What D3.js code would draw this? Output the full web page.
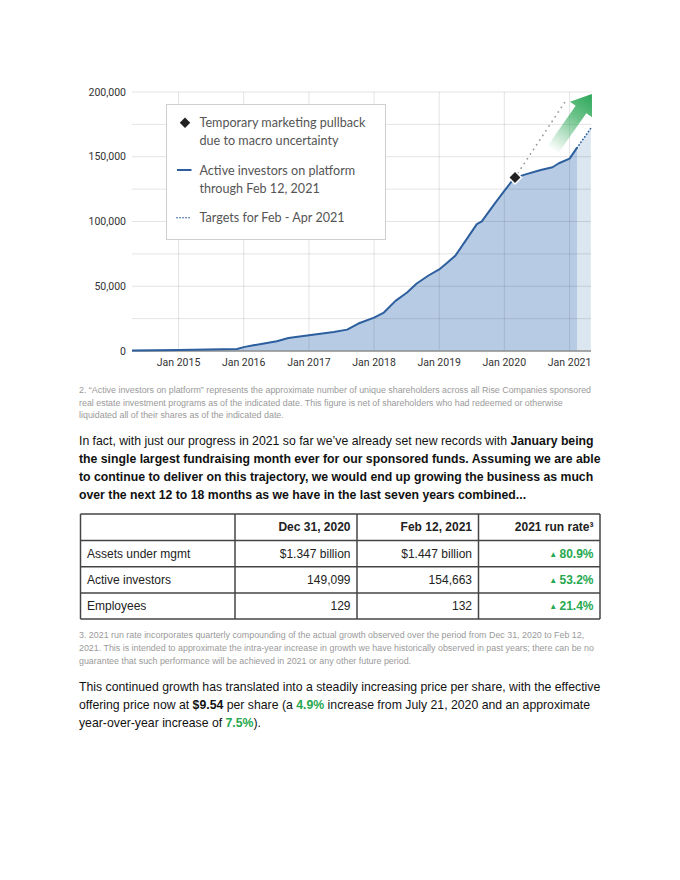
<!DOCTYPE html>
<html>
<head>
<meta charset="utf-8">
<script src="https://cdn.jsdelivr.net/npm/d3@7"></script>
<style>
  body { margin: 0; background: #fff; }
  svg { display: block; }
</style>
</head>
<body>
<div id="page"></div>
<script>
// ----- data -----
const investorDates = ["2014-04-15", "2015-01-01", "2015-11-25", "2016-01-01", "2016-02-25", "2016-05-10",
  "2016-07-05", "2016-09-08", "2017-01-01", "2017-05-20", "2017-08-03", "2017-10-05", "2018-01-01",
  "2018-02-25", "2018-05-01", "2018-07-05", "2018-08-28", "2018-11-02", "2019-01-01", "2019-02-15",
  "2019-04-01", "2019-06-07", "2019-07-31", "2019-08-28", "2019-11-02", "2020-01-01", "2020-02-25",
  "2020-04-20", "2020-07-23", "2020-09-27", "2020-11-02", "2021-01-01", "2021-02-12"];
const investorValues = [300, 800, 1500, 3000, 4400, 6200, 7500, 10000, 12100, 14700, 16500, 21200, 25800,
  29700, 38700, 45200, 52100, 58300, 63000, 68100, 73500, 87000, 98000, 100100, 112700, 123600, 133400,
  136000, 139800, 141900, 145000, 148600, 157000];

const targetDates = ["2021-02-12", "2021-04-30"];
const targetValues = [157000, 172000];

const pullbackDate = "2020-03-01";
const pullbackValue = 134000;

const trendDates = ["2020-03-01", "2020-12-07"];
const trendValues = [134000, 192500];

const arrowDates = ["2020-09-27", "2021-05-06"];   // tail, tip
const arrowValues = [155000, 198500];

const yTicks = [0, 50000, 100000, 150000, 200000];
const yGrid = d3.range(0, 200001, 25000);
const xTickYears = [2015, 2016, 2017, 2018, 2019, 2020, 2021];

const legendItems = [
  ["Temporary marketing pullback", "due to macro uncertainty"],
  ["Active investors on platform", "through Feb 12, 2021"],
  ["Targets for Feb - Apr 2021"]
];

const footnote2 = [
  "2. \u201cActive investors on platform\u201d represents the approximate number of unique shareholders across all Rise Companies sponsored",
  "real estate investment programs as of the indicated date. This figure is net of shareholders who had redeemed or otherwise",
  "liquidated all of their shares as of the indicated date."
];

// each line: list of [text, style]  (n = normal, b = bold, g = green bold)
const para1 = [
  [["In fact, with just our progress in 2021 so far we\u2019ve already set new records with ", "n"], ["January being", "b"]],
  [["the single largest fundraising month ever for our sponsored funds. Assuming we are able", "b"]],
  [["to continue to deliver on this trajectory, we would end up growing the business as much", "b"]],
  [["over the next 12 to 18 months as we have in the last seven years combined...", "b"]]
];

const tableHeader = ["", "Dec 31, 2020", "Feb 12, 2021", "2021 run rate\u00b3"];
const tableRows = [
  ["Assets under mgmt", "$1.347 billion", "$1.447 billion", "80.9%"],
  ["Active investors", "149,099", "154,663", "53.2%"],
  ["Employees", "129", "132", "21.4%"]
];

const footnote3 = [
  "3. 2021 run rate incorporates quarterly compounding of the actual growth observed over the period from Dec 31, 2020 to Feb 12,",
  "2021. This is intended to approximate the intra-year increase in growth we have historically observed in past years; there can be no",
  "guarantee that such performance will be achieved in 2021 or any other future period."
];

const para2 = [
  [["This continued growth has translated into a steadily increasing price per share, with the effective", "n"]],
  [["offering price now at ", "n"], ["$9.54", "b"], [" per share (a ", "n"], ["4.9%", "g"], [" increase from July 21, 2020 and an approximate", "n"]],
  [["year-over-year increase of ", "n"], ["7.5%", "g"], [").", "n"]]
];

// ----- setup -----
const W = 680, H = 880;
const GREEN = "#27a84f";
const parse = d3.timeParse("%Y-%m-%d");

const svg = d3.select("#page").append("svg")
  .attr("width", W)
  .attr("height", H);

const x = d3.scaleTime()
  .domain([parse("2014-04-15"), parse("2021-05-01")])
  .range([132, 591]);

const y = d3.scaleLinear()
  .domain([0, 200000])
  .range([351, 92]);

const series = investorDates.map((d, i) => ({ date: parse(d), value: investorValues[i] }));
const target = targetDates.map((d, i) => ({ date: parse(d), value: targetValues[i] }));
const trend = trendDates.map((d, i) => ({ date: parse(d), value: trendValues[i] }));

const chart = svg.append("g");

// target area (lighter)
chart.append("path")
  .datum(target)
  .attr("fill", "#dce6f1")
  .attr("d", d3.area().x(d => x(d.date)).y0(y(0)).y1(d => y(d.value)));

// main area
chart.append("path")
  .datum(series)
  .attr("fill", "#b7cce4")
  .attr("d", d3.area().x(d => x(d.date)).y0(y(0)).y1(d => y(d.value)));

// gridlines on top of the fill
chart.append("g")
  .selectAll("line.h")
  .data(yGrid.slice(1))
  .join("line")
  .attr("x1", x.range()[0]).attr("x2", x.range()[1])
  .attr("y1", d => y(d)).attr("y2", d => y(d))
  .attr("stroke", "#000").attr("stroke-opacity", 0.11).attr("stroke-width", 1);

chart.append("g")
  .selectAll("line.v")
  .data(xTickYears)
  .join("line")
  .attr("x1", d => x(new Date(d, 0, 1))).attr("x2", d => x(new Date(d, 0, 1)))
  .attr("y1", y(200000)).attr("y2", y(0))
  .attr("stroke", "#000").attr("stroke-opacity", 0.11).attr("stroke-width", 1);

// baseline
chart.append("line")
  .attr("x1", x.range()[0]).attr("x2", x.range()[1])
  .attr("y1", y(0)).attr("y2", y(0))
  .attr("stroke", "#8d8d8d").attr("stroke-width", 1.5);

// y axis labels
chart.append("g")
  .selectAll("text")
  .data(yTicks)
  .join("text")
  .attr("x", 126)
  .attr("y", d => y(d) + 3.5)
  .attr("text-anchor", "end")
  .attr("font-family", "Roboto, sans-serif")
  .attr("font-size", 10.5)
  .attr("fill", "#333")
  .text(d => d3.format(",")(d));

// x axis labels
chart.append("g")
  .selectAll("text")
  .data(xTickYears)
  .join("text")
  .attr("x", d => x(new Date(d, 0, 1)))
  .attr("y", 366)
  .attr("text-anchor", "middle")
  .attr("font-family", "Roboto, sans-serif")
  .attr("font-size", 10.5)
  .attr("fill", "#333")
  .text(d => "Jan " + d);

// green arrow with gradient
const defs = svg.append("defs");
const ax0 = x(parse(arrowDates[0])), ay0 = y(arrowValues[0]);
const ax1 = x(parse(arrowDates[1])), ay1 = y(arrowValues[1]);
const grad = defs.append("linearGradient")
  .attr("id", "arrowGrad")
  .attr("gradientUnits", "userSpaceOnUse")
  .attr("x1", ax0).attr("y1", ay0).attr("x2", ax1).attr("y2", ay1);
grad.append("stop").attr("offset", 0).attr("stop-color", "#3aae62").attr("stop-opacity", 0);
grad.append("stop").attr("offset", 0.6).attr("stop-color", "#3aae62").attr("stop-opacity", 0.75);
grad.append("stop").attr("offset", 1).attr("stop-color", "#2aa657").attr("stop-opacity", 1);

{
  const dx = ax1 - ax0, dy = ay1 - ay0;
  const len = Math.hypot(dx, dy);
  const ux = dx / len, uy = dy / len;
  const px = -uy, py = ux;
  const shaftHalf = 6.5, headHalf = 13.5, headLen = 19;
  const bx = ax1 - ux * headLen, by = ay1 - uy * headLen;
  const pts = [
    [ax0 + px * shaftHalf, ay0 + py * shaftHalf],
    [bx + px * shaftHalf, by + py * shaftHalf],
    [bx + px * headHalf, by + py * headHalf],
    [ax1, ay1],
    [bx - px * headHalf, by - py * headHalf],
    [bx - px * shaftHalf, by - py * shaftHalf],
    [ax0 - px * shaftHalf, ay0 - py * shaftHalf]
  ];
  chart.append("path")
    .attr("d", d3.line()(pts) + "Z")
    .attr("fill", "url(#arrowGrad)");
}

// gray dotted trend
chart.append("path")
  .datum(trend)
  .attr("fill", "none")
  .attr("stroke", "#9a9a9a")
  .attr("stroke-width", 1.8)
  .attr("stroke-linecap", "round")
  .attr("stroke-dasharray", "0.1 5.5")
  .attr("d", d3.line().x(d => x(d.date)).y(d => y(d.value)));

// blue dotted target line
chart.append("path")
  .datum(target)
  .attr("fill", "none")
  .attr("stroke", "#2d5f9e")
  .attr("stroke-width", 1.8)
  .attr("stroke-linecap", "round")
  .attr("stroke-dasharray", "0.1 3.2")
  .attr("d", d3.line().x(d => x(d.date)).y(d => y(d.value)));

// main line
chart.append("path")
  .datum(series)
  .attr("fill", "none")
  .attr("stroke", "#2d5f9e")
  .attr("stroke-width", 2)
  .attr("stroke-linejoin", "round")
  .attr("d", d3.line().x(d => x(d.date)).y(d => y(d.value)));

// pullback marker
chart.append("path")
  .attr("transform", `translate(${x(parse(pullbackDate))},${y(pullbackValue)}) rotate(45)`)
  .attr("d", "M-4.6,-4.6H4.6V4.6H-4.6Z")
  .attr("fill", "#222")
  .attr("stroke", "#fff")
  .attr("stroke-width", 1.5);

// ----- legend -----
const legend = svg.append("g");
legend.append("rect")
  .attr("x", 166.5).attr("y", 104.5)
  .attr("width", 219).attr("height", 135)
  .attr("fill", "#fff")
  .attr("stroke", "#cfcfcf");

const legendY = [122.7, 170, 217.7];
legendItems.forEach((lines, i) => {
  const g = legend.append("g").attr("transform", `translate(0, ${legendY[i]})`);
  lines.forEach((t, j) => {
    g.append("text")
      .attr("x", 199.5)
      .attr("y", j * 18.3 + 4.5)
      .attr("font-family", "Lato, sans-serif")
      .attr("font-size", 12.6)
      .attr("fill", "#555")
      .text(t);
  });
});
legend.append("path")
  .attr("transform", `translate(185, ${legendY[0]}) rotate(45)`)
  .attr("d", "M-3.7,-3.7H3.7V3.7H-3.7Z")
  .attr("fill", "#222");
legend.append("line")
  .attr("x1", 177).attr("x2", 191.5)
  .attr("y1", legendY[1]).attr("y2", legendY[1])
  .attr("stroke", "#2d5f9e").attr("stroke-width", 2);
legend.append("line")
  .attr("x1", 177).attr("x2", 192)
  .attr("y1", legendY[2]).attr("y2", legendY[2])
  .attr("stroke", "#2d5f9e").attr("stroke-width", 1.6)
  .attr("stroke-linecap", "round")
  .attr("stroke-dasharray", "0.1 2.9");

// ----- text blocks -----
const SANS = "'Liberation Sans', Arial, sans-serif";
const LEFT = 79;

function smallLines(lines, y0, step) {
  svg.append("g")
    .selectAll("text")
    .data(lines)
    .join("text")
    .attr("x", LEFT)
    .attr("y", (d, i) => y0 + i * step)
    .attr("font-family", SANS)
    .attr("font-size", 8.9)
    .attr("fill", "#9a9a9a")
    .text(d => d);
}

// body text in the source is a touch narrower than Arial, squeeze horizontally
function richLines(lines, y0, step, size, sx) {
  const g = svg.append("g")
    .attr("transform", `translate(${LEFT},0) scale(${sx},1) translate(${-LEFT},0)`);
  lines.forEach((parts, i) => {
    const t = g.append("text")
      .attr("x", LEFT)
      .attr("y", y0 + i * step)
      .attr("font-family", SANS)
      .attr("font-size", size)
      .attr("fill", "#111");
    parts.forEach(([s, st]) => {
      t.append("tspan")
        .attr("font-weight", st === "n" ? null : "bold")
        .attr("fill", st === "g" ? GREEN : null)
        .text(s);
    });
  });
}

smallLines(footnote2, 393, 12.5);
richLines(para1, 445, 18, 13, 0.945);
smallLines(footnote3, 638, 13);
richLines(para2, 691, 18, 13, 0.945);

// ----- table -----
const colX = [80.5, 235, 357, 478.5, 600];
const rowY = [514, 540.5, 566.8, 593, 619];
const table = svg.append("g");

table.selectAll("line.r")
  .data(rowY)
  .join("line")
  .attr("x1", colX[0]).attr("x2", colX[colX.length - 1])
  .attr("y1", d => d).attr("y2", d => d)
  .attr("stroke", "#444").attr("stroke-width", 1.5);
table.selectAll("line.c")
  .data(colX)
  .join("line")
  .attr("x1", d => d).attr("x2", d => d)
  .attr("y1", rowY[0]).attr("y2", rowY[rowY.length - 1])
  .attr("stroke", "#444").attr("stroke-width", 1.5);

const allRows = [tableHeader].concat(tableRows);
allRows.forEach((row, r) => {
  const cy = (rowY[r] + rowY[r + 1]) / 2 + 4.2;
  row.forEach((cell, c) => {
    if (!cell) return;
    const t = table.append("text")
      .attr("y", cy)
      .attr("font-family", SANS)
      .attr("font-size", 12)
      .attr("fill", "#222");
    if (c === 0) {
      t.attr("x", colX[0] + 6.5).text(cell);
      return;
    }
    t.attr("x", colX[c + 1] - 6.5).attr("text-anchor", "end");
    if (r === 0) {
      t.attr("font-weight", "bold").text(cell);
    } else if (c === 3) {
      t.attr("font-weight", "bold").attr("fill", GREEN);
      t.append("tspan").attr("font-size", 8).attr("dy", -1).text("\u25b2 ");
      t.append("tspan").attr("dy", 1).text(cell);
    } else {
      t.text(cell);
    }
  });
});
</script>
</body>
</html>
